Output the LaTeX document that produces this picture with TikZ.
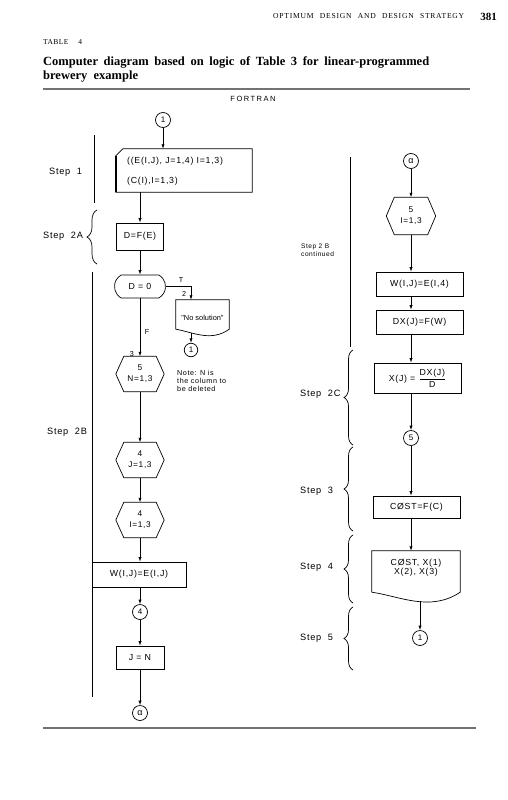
\documentclass[tikz,border=0pt]{standalone}
\usepackage{fontspec}
\setmainfont{Liberation Serif}
\newfontfamily\fdg[LetterSpace=8]{Liberation Sans}
\newfontfamily\fplain{Liberation Sans}
\newfontfamily\fhead[LetterSpace=10]{Liberation Serif}
\newfontfamily\ftab[LetterSpace=6]{Liberation Serif}
\newfontfamily\ffort[LetterSpace=20]{Liberation Sans}
\usetikzlibrary{shapes.misc,decorations.pathreplacing,arrows.meta}
\newcommand\hexdraw[1]{\draw[ln] (#1.west) -- ([xshift=8pt]#1.north west) -- ([xshift=-8pt]#1.north east) -- (#1.east) -- ([xshift=-8pt]#1.south east) -- ([xshift=8pt]#1.south west) -- cycle;}
\begin{document}
\begin{tikzpicture}[x=1pt,y=-1pt,
 ln/.style={line width=0.7pt},
 arr/.style={line width=0.7pt,-{Latex[length=4.5pt,width=3.2pt]}},
 bx/.style={draw,line width=0.7pt,inner sep=0pt,font=\fdg\fontsize{8.8}{10}\selectfont},
 conn/.style={draw,circle,line width=0.7pt,inner sep=0pt,minimum size=15pt,font=\fdg\fontsize{8}{8}\selectfont},
 lab/.style={inner sep=0pt,font=\fdg\fontsize{8.8}{10}\selectfont},
 steplab/.style={inner sep=0pt,anchor=west,font=\fdg\fontsize{9.2}{10}\selectfont},
 tiny/.style={inner sep=0pt,font=\fdg\fontsize{7.2}{8}\selectfont},
 hexb/.style={inner sep=0pt,minimum width=48pt,minimum height=35pt,align=center,font=\fdg\fontsize{8.3}{11}\selectfont},
 brcL/.style={line width=0.7pt,decorate,decoration={brace,amplitude=10pt}},
 brcR/.style={line width=0.7pt,decorate,decoration={brace,amplitude=9pt}},
 rule/.style={line width=1.4pt,black!55},
]
\useasboundingbox (0,0) rectangle (508,800);
% header
\node[anchor=base west,inner sep=0pt,font=\fhead\fontsize{7.6}{8}\selectfont] (rh) at (273,19) {\makebox[191pt][s]{OPTIMUM DESIGN AND DESIGN STRATEGY}};
\node[anchor=base east,inner sep=0pt,font=\bfseries\fontsize{11}{12}\selectfont] (pg) at (497,20.5) {381};
\node[anchor=base west,inner sep=0pt,font=\ftab\fontsize{7.5}{8}\selectfont] (tb) at (43,45) {\makebox[39pt][s]{TABLE 4}};
\node[anchor=base west,inner sep=0pt,font=\bfseries\fontsize{12.5}{15}\selectfont] (tt1) at (43,65.5) {\makebox[386pt][s]{Computer diagram based on logic of Table 3 for linear-programmed}};
\node[anchor=base west,inner sep=0pt,font=\bfseries\fontsize{12.5}{15}\selectfont] (tt2) at (43,80) {brewery\ \ example};
\draw[rule] (43,89) -- (470,89);
\node[inner sep=0pt,font=\ffort\fontsize{7.5}{8}\selectfont] (ft) at (253,99) {FORTRAN};
\draw[rule] (43,728) -- (476,728);

% ---------- left column ----------
\draw[ln] (94,135) -- (94,203);
\node[steplab] (s1) at (49,172) {Step\ \ 1};
\draw[brcL] (97,264) -- (97,210);
\node[steplab] (s2a) at (43,236) {Step\ \ 2A};
\draw[ln] (92,272) -- (92,697);
\node[steplab] (s2b) at (47,432) {Step\ \ 2B};

\node[conn] (c1) at (163,120) {1};
\node[inner sep=0pt,minimum width=136pt,minimum height=43pt] (rd) at (184,170.5) {};
\draw[ln] ([xshift=7pt]rd.north west) -- (rd.north east) -- (rd.south east) -- (rd.south west) -- ([yshift=-7pt]rd.north west) -- cycle;
\draw[line width=1.4pt] (rd.south west) -- ([yshift=-7pt]rd.north west);
\node[lab,anchor=base west] (rd1) at (127,163) {((E(I,J), J=1,4) I=1,3)};
\node[lab,anchor=base west] (rd2) at (127,183) {(C(I),I=1,3)};
\draw[arr] (c1.south) -- (c1.south |- rd.north);

\node[bx,minimum width=47pt,minimum height=27pt] (dfe) at (140,236.5) {D=F(E)};
\draw[arr] (rd.south -| dfe) -- (dfe.north);
\node[bx,rounded rectangle,rounded rectangle arc length=120,minimum width=51pt,minimum height=23pt] (term) at (140,286.5) {D = 0};
\draw[arr] (dfe.south) -- (term.north);

\node[inner sep=0pt,minimum width=53pt,minimum height=29pt] (nsol) at (202.5,314.5) {};
\draw[ln] (nsol.south west) -- (nsol.north west) -- (nsol.north east) -- (nsol.south east) .. controls ([xshift=-18pt,yshift=-13pt]nsol.south east) and ([xshift=17pt,yshift=-3pt]nsol.south west) .. (nsol.south west);
\node[inner sep=0pt,font=\fplain\fontsize{7.4}{8}\selectfont] (nst) at (202.5,318) {"No solution"};
\node[conn,minimum size=13.5pt] (c1b) at (191,350) {1};
\draw[arr] (term.east) -- (term.east -| c1b) -- (c1b |- nsol.north);
\node[tiny] (lT) at (181,280) {T};
\node[tiny] (l2) at (184,294) {2};
\draw[arr] ([yshift=-4pt]nsol.south -| c1b) -- (c1b.north);

\node[hexb] (hN) at (140,374) {5\\N=1,3};
\hexdraw{hN}
\node[hexb] (hJ) at (140,460) {4\\J=1,3};
\hexdraw{hJ}
\node[hexb] (hI) at (140,520) {4\\I=1,3};
\hexdraw{hI}
\draw[arr] (term.south) -- (hN.north);
\node[tiny] (lF) at (147,332) {F};
\node[tiny] (l3) at (132,354) {3};
\node[tiny,anchor=north west,align=left] (note) at (177,370) {Note: N is\\the column to\\be deleted};
\draw[arr] (hN.south) -- (hJ.north);
\draw[arr] (hJ.south) -- (hI.north);
\node[bx,minimum width=94pt,minimum height=25pt] (wb) at (139,574.5) {W(I,J)=E(I,J)};
\draw[arr] (hI.south) -- (hI.south |- wb.north);
\node[conn] (c4) at (140,612) {4};
\draw[arr] (wb.south -| c4) -- (c4.north);
\node[bx,minimum width=48pt,minimum height=23pt] (jn) at (140,657.5) {J = N};
\draw[arr] (c4.south) -- (jn.north);
\node[conn,font=\fplain\fontsize{9}{9}\selectfont] (ca1) at (140,713) {α};
\draw[arr] (jn.south) -- (ca1.north);

% ---------- right column ----------
\draw[ln] (350,157) -- (350,347);
\node[inner sep=0pt,anchor=west,align=left,font=\fdg\fontsize{6.6}{7.5}\selectfont] (s2bc) at (301,250) {Step 2 B\\continued};
\node[conn,font=\fplain\fontsize{9}{9}\selectfont] (ca2) at (411,161) {α};
\node[hexb,minimum width=49pt,minimum height=37pt] (hR) at (411,216) {5\\I=1,3};
\hexdraw{hR}
\draw[arr] (ca2.south) -- (hR.north);
\node[bx,minimum width=87pt,minimum height=24pt] (wr) at (419.5,284) {W(I,J)=E(I,4)};
\draw[arr] (hR.south) -- (hR.south |- wr.north);
\node[bx,minimum width=87pt,minimum height=24pt] (dx) at (419.5,322) {DX(J)=F(W)};
\draw[arr] (wr.south -| hR) -- (dx.north -| hR);
\node[bx,minimum width=87pt,minimum height=30pt] (xj) at (417.5,378) {X(J) = $\displaystyle\frac{\hbox{DX(J)}}{\hbox{D}}$};
\draw[arr] (dx.south -| hR) -- (xj.north -| hR);
\node[conn] (c5) at (411,438) {5};
\draw[arr] (xj.south -| c5) -- (c5.north);
\node[bx,minimum width=87pt,minimum height=22pt] (cost) at (416.5,507) {CØST=F(C)};
\draw[arr] (c5.south) -- (c5.south |- cost.north);
\node[inner sep=0pt,minimum width=88pt,minimum height=41pt] (doc2) at (416,571.5) {};
\draw[ln] (doc2.south west) -- (doc2.north west) -- (doc2.north east) -- (doc2.south east) .. controls ([xshift=-30pt,yshift=-20pt]doc2.south east) and ([xshift=28pt,yshift=-4pt]doc2.south west) .. (doc2.south west);
\node[lab,align=center,font=\fdg\fontsize{8.8}{9.5}\selectfont] (doc2t) at (416,567.5) {CØST, X(1)\\X(2), X(3)};
\draw[arr] (cost.south -| c5) -- (doc2.north -| c5);
\node[conn] (c1r) at (420,638) {1};
\draw[arr] ([yshift=-9pt]doc2.south -| c1r) -- (c1r.north);

\draw[brcR] (353,445) -- (353,350);
\node[steplab] (s2c) at (300,394) {Step\ \ 2C};
\draw[brcR] (353,531) -- (353,447);
\node[steplab] (s3) at (300,491) {Step\ \ 3};
\draw[brcR] (353,603) -- (353,535);
\node[steplab] (s4) at (300,567) {Step\ \ 4};
\draw[brcR] (353,670) -- (353,607);
\node[steplab] (s5) at (300,638) {Step\ \ 5};
\end{tikzpicture}
\end{document}
